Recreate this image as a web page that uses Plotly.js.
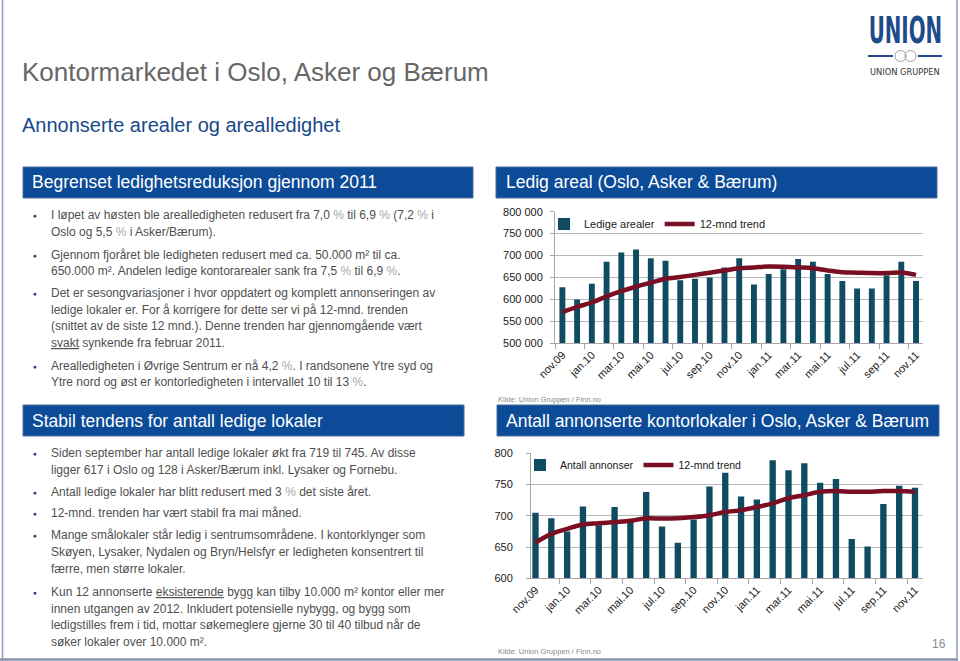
<!DOCTYPE html>
<html><head><meta charset="utf-8">
<script src="https://cdn.plot.ly/plotly-3.0.1.min.js"></script>
<style>html,body{margin:0;padding:0;background:#fff;}#chart{width:960px;height:661px;}</style>
</head><body><div id="chart"></div>
<script>
// ---------- DATA ----------
const months = ["nov.09","des.09","jan.10","feb.10","mar.10","apr.10","mai.10","jun.10","jul.10","aug.10","sep.10","okt.10",
  "nov.10","des.10","jan.11","feb.11","mar.11","apr.11","mai.11","jun.11","jul.11","aug.11","sep.11","okt.11","nov.11"];
const ledigeArealer = [628000,600000,636000,686000,707000,714000,694000,688000,644000,647000,650000,673000,
  694000,634000,658000,669000,692000,686000,658000,642000,625000,625000,655000,686000,642000];
const trendAreal = [571000,583000,593000,607000,619000,629000,638000,647000,651000,656000,661000,666000,
  671000,673000,675000,674500,673000,671000,666000,662000,661000,660000,660000,661500,656000];
const antallAnnonser = [705,696,675,715,685,714,690,738,683,657,694,747,
  769,731,726,789,773,784,753,759,663,651,719,748,745];
const trendAnnonser = [657,671,679,686,688,690,692,696,695.5,696,698,701,
  706,709,714,720,728,733,738.5,739.5,738.5,738.5,739.5,739.5,738];
const seriesNames = {areal:"Ledige arealer", annonser:"Antall annonser", trend:"12-mnd trend"};

// ---------- helpers ----------
const W = 960, H = 661;
const px = x => x / W;
const py = y => 1 - y / H;
const idx = months.map((m, i) => i);
const labelIdx = idx.filter(i => i % 2 === 0);
const labelText = labelIdx.map(i => months[i]);
const boundaries = idx.filter(i => i % 2 === 1).map(i => i + 0.5).filter(v => v < 24);

const BAR = "#0f4c62", TREND = "#7a0e22", HEAD = "#0b4b98";
const FONT = "Liberation Sans, Arial, sans-serif";

const traces = [
  {type:"bar", x:idx, y:ledigeArealer, name:seriesNames.areal, marker:{color:BAR}, xaxis:"x", yaxis:"y", legend:"legend"},
  {type:"scatter", mode:"lines", x:idx, y:trendAreal, name:seriesNames.trend, line:{color:TREND, width:4.5, shape:"spline", smoothing:1}, xaxis:"x", yaxis:"y", legend:"legend"},
  {type:"bar", x:idx, y:antallAnnonser, name:seriesNames.annonser, marker:{color:BAR}, xaxis:"x2", yaxis:"y2", legend:"legend2"},
  {type:"scatter", mode:"lines", x:idx, y:trendAnnonser, name:seriesNames.trend, line:{color:TREND, width:4.5, shape:"spline", smoothing:1}, xaxis:"x2", yaxis:"y2", legend:"legend2"}
];

function xAxis(domain, range, anchor, leftTick) {
  return {
    domain: domain, range: range, anchor: anchor,
    tickmode: "array", tickvals: labelIdx, ticktext: labelText, tickangle: -45,
    ticks: "", showline: true, linecolor: "#a6a6a6", linewidth: 1,
    showgrid: false, zeroline: false, fixedrange: true,
    tickfont: {family: FONT, size: 11, color: "#1a1a1a"},
    minor: {tickmode: "array", tickvals: leftTick.concat(boundaries), ticks: "outside", ticklen: 5, tickcolor: "#a6a6a6", showgrid: false}
  };
}
function yAxis(domain, range, dtick, anchor, standoff, fmt) {
  return {
    domain: domain, range: range, dtick: dtick, anchor: anchor,
    tickformat: fmt, showgrid: true, gridcolor: "#b8b8b8", gridwidth: 1,
    showline: true, linecolor: "#a6a6a6", ticks: "outside", ticklen: 4, tickcolor: "#a6a6a6",
    zeroline: false, fixedrange: true, ticklabelstandoff: standoff,
    tickfont: {family: FONT, size: 11, color: "#1a1a1a"}
  };
}

const shapes = [];
const annotations = [];
function rect(x0, y0, x1, y1, fill, line) {
  shapes.push({type:"rect", xref:"paper", yref:"paper", x0:px(x0), x1:px(x1), y0:py(y0), y1:py(y1),
    fillcolor: fill, line: {color: line || fill, width: 1}, layer: "below"});
}
function hline(x0, x1, y, color, w) {
  shapes.push({type:"line", xref:"paper", yref:"paper", x0:px(x0), x1:px(x1), y0:py(y), y1:py(y), line:{color:color, width:w}});
}
function vline(x, y0, y1, color, w) {
  shapes.push({type:"line", xref:"paper", yref:"paper", x0:px(x), x1:px(x), y0:py(y0), y1:py(y1), line:{color:color, width:w}});
}
function text(t, x, y, size, color, opts) {
  annotations.push(Object.assign({text:t, xref:"paper", yref:"paper", x:px(x), y:py(y), xanchor:"left", yanchor:"middle",
    showarrow:false, borderpad:0, font:{family:FONT, size:size, color:color}}, opts || {}));
}

// slide frame
vline(2.5, 0, 661, "#8a9aba", 1.5);
vline(957, 0, 660, "#8a9aba", 1.5);
hline(0, 958, 659.5, "#8594aa", 2.5);

// titles
text("Kontormarkedet i Oslo, Asker og Bærum", 21, 72, 26, "#676767");
text("Annonserte arealer og arealledighet", 21, 125, 20, "#17498a");

// header boxes
rect(23, 167, 473, 198, HEAD, "#4a6fa0");
text("Begrenset ledighetsreduksjon gjennom 2011", 31, 182, 17.5, "#ffffff");
rect(23, 405, 464, 436, HEAD, "#4a6fa0");
text("Stabil tendens for antall ledige lokaler", 31, 420.5, 17.5, "#ffffff");
rect(496, 167, 937, 198, HEAD, "#4a6fa0");
text("Ledig areal (Oslo, Asker &amp; Bærum)", 505, 182, 17.5, "#ffffff");
rect(497, 405, 939, 436, HEAD, "#4a6fa0");
text("Antall annonserte kontorlokaler i Oslo, Asker &amp; Bærum", 505, 420.5, 17.5, "#ffffff");

// bullet texts
const pct = s => s.replace(/%/g, '<span style="color:#a8a8a8">%</span>');
const bulletsTop = [
  ["I løpet av høsten ble arealledigheten redusert fra 7,0 % til 6,9 % (7,2 % i", "Oslo og 5,5 % i Asker/Bærum)."],
  ["Gjennom fjoråret ble ledigheten redusert med ca. 50.000 m² til ca.", "650.000 m². Andelen ledige kontorarealer sank fra 7,5 % til 6,9 %."],
  ["Det er sesongvariasjoner i hvor oppdatert og komplett annonseringen av", "ledige lokaler er. For å korrigere for dette ser vi på 12-mnd. trenden",
   "(snittet av de siste 12 mnd.). Denne trenden har gjennomgående vært", "<u>svakt</u> synkende fra februar 2011."],
  ["Arealledigheten i Øvrige Sentrum er nå 4,2 %. I randsonene Ytre syd og", "Ytre nord og øst er kontorledigheten i intervallet 10 til 13 %."]
];
const startsTop = [215, 254.5, 293, 365.5];
const bulletsBottom = [
  ["Siden september har antall ledige lokaler økt fra 719 til 745. Av disse", "ligger 617 i Oslo og 128 i Asker/Bærum inkl. Lysaker og Fornebu."],
  ["Antall ledige lokaler har blitt redusert med 3 % det siste året."],
  ["12-mnd. trenden har vært stabil fra mai måned."],
  ["Mange smålokaler står ledig i sentrumsområdene. I kontorklynger som", "Skøyen, Lysaker, Nydalen og Bryn/Helsfyr er ledigheten konsentrert til", "færre, men større lokaler."],
  ["Kun 12 annonserte <u>eksisterende</u> bygg kan tilby 10.000 m² kontor eller mer", "innen utgangen av 2012. Inkludert potensielle nybygg, og bygg som",
   "ledigstilles frem i tid, mottar søkemeglere gjerne 30 til 40 tilbud når de", "søker lokaler over 10.000 m²."]
];
const startsBottom = [453.3, 491.7, 513.3, 535, 591.7];
function drawBullets(list, starts, spacing) {
  list.forEach((lines, b) => {
    text("●", 31.5, starts[b] + 0.5, 6.5, "#1d3f7a");
    lines.forEach((l, k) => text(pct(l), 50, starts[b] + k * spacing, 12, "#4f4f4f"));
  });
}
drawBullets(bulletsTop, startsTop, 16.7);
drawBullets(bulletsBottom, startsBottom, 16.8);

// sources / page
text("Kilde: Union Gruppen / Finn.no", 497, 399, 7.5, "#8a8a8a");
text("Kilde: Union Gruppen / Finn.no", 497, 651, 7.5, "#8a8a8a");
text("16", 947, 644, 12, "#8c8c8c", {xanchor:"right"});

// logo
text("<b>UNION</b>", 905, 30, 38, "#1d4b8c", {xanchor:"center", font:{family:"DejaVu Sans Condensed, sans-serif", size:38, color:"#1d4b8c"}});
hline(868, 893, 56, "#1d4b8c", 2);
hline(918, 942, 56, "#1d4b8c", 2);
shapes.push({type:"circle", xref:"paper", yref:"paper", x0:px(895), x1:px(906), y0:py(61.5), y1:py(50.5), line:{color:"#a0a0a0", width:1}});
shapes.push({type:"circle", xref:"paper", yref:"paper", x0:px(905), x1:px(916), y0:py(61.5), y1:py(50.5), line:{color:"#a0a0a0", width:1}});
text("UNION GRUPPEN", 905, 72, 8.5, "#333333", {xanchor:"center", font:{family:"DejaVu Sans, sans-serif", size:8.3, color:"#333"}});

const layout = {
  width: W, height: H, margin: {l:0, r:0, t:0, b:0},
  paper_bgcolor: "#ffffff", plot_bgcolor: "rgba(0,0,0,0)",
  separators: ", ", bargap: 0.6, barmode: "group",
  font: {family: FONT},
  xaxis: xAxis([px(555), px(923.4)], [-0.5, 24.5], "y", [-0.5]),
  yaxis: yAxis([py(343.3), py(211.7)], [500000, 800000], 50000, "x", 5, ",.0f"),
  xaxis2: xAxis([px(531), px(923.3)], [-0.285, 24.525], "y2", []),
  yaxis2: yAxis([py(578.3), py(453.3)], [600, 800], 50, "x2", 11, "d"),
  legend: {orientation: "h", x: px(544), y: py(224), xanchor: "left", yanchor: "middle",
    bgcolor: "rgba(0,0,0,0)", font: {family: FONT, size: 11, color: "#1a1a1a"}, traceorder: "normal"},
  legend2: {orientation: "h", x: px(520), y: py(465), xanchor: "left", yanchor: "middle",
    bgcolor: "rgba(0,0,0,0)", font: {family: FONT, size: 10.5, color: "#1a1a1a"}, traceorder: "normal"},
  shapes: shapes, annotations: annotations, showlegend: true
};
Plotly.newPlot("chart", traces, layout, {staticPlot: true, displayModeBar: false}).then(() => {
  document.querySelectorAll("#chart .annotation-text").forEach(el => {
    if (el.textContent === "UNION") {
      el.style.transformBox = "fill-box";
      el.style.transformOrigin = "center";
      el.style.transform = "scaleX(0.58)";
    }
  });
});
</script>
</body></html>
